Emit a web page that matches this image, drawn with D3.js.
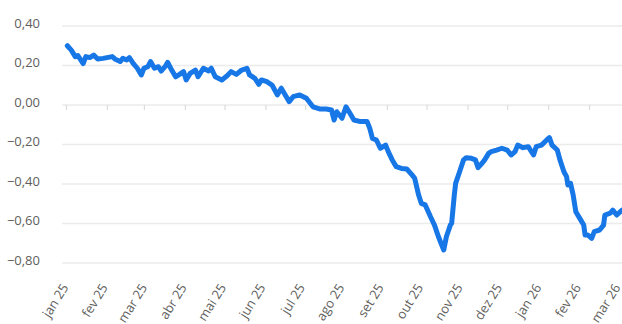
<!DOCTYPE html>
<html>
<head>
<meta charset="utf-8">
<script src="https://cdn.jsdelivr.net/npm/d3@7"></script>
<style>
  body { margin: 0; background: #fff; }
  svg text { font-family: "Open Sans", "Noto Sans", sans-serif; }
</style>
</head>
<body>
<div id="chart"></div>
<script>
const dates = [
  "2025-01-02","2025-01-05","2025-01-08","2025-01-10","2025-01-14","2025-01-16","2025-01-19","2025-01-22","2025-01-25","2025-01-29",
  "2025-02-05","2025-02-07","2025-02-11","2025-02-13","2025-02-16","2025-02-18","2025-02-21","2025-02-24","2025-02-27",
  "2025-03-01","2025-03-04","2025-03-06","2025-03-09","2025-03-12","2025-03-14","2025-03-17","2025-03-19","2025-03-22","2025-03-25","2025-03-28","2025-03-31",
  "2025-04-02","2025-04-05","2025-04-09","2025-04-11","2025-04-15","2025-04-19","2025-04-21","2025-04-24","2025-04-29",
  "2025-05-03","2025-05-06","2025-05-10","2025-05-14","2025-05-18","2025-05-20","2025-05-24","2025-05-27","2025-05-29",
  "2025-06-02","2025-06-06","2025-06-10","2025-06-13","2025-06-16","2025-06-19","2025-06-22","2025-06-27",
  "2025-07-02","2025-07-07","2025-07-12","2025-07-17","2025-07-21","2025-07-23","2025-07-25","2025-07-29",
  "2025-08-01","2025-08-04","2025-08-07","2025-08-12","2025-08-17","2025-08-19","2025-08-21","2025-08-24","2025-08-27","2025-08-31",
  "2025-09-02","2025-09-05","2025-09-08","2025-09-12","2025-09-16","2025-09-20","2025-09-22","2025-09-25","2025-09-27","2025-09-30",
  "2025-10-04","2025-10-07","2025-10-10","2025-10-14","2025-10-16","2025-10-19","2025-10-20","2025-10-22","2025-10-23","2025-10-26","2025-10-29","2025-10-31",
  "2025-11-04","2025-11-07","2025-11-09","2025-11-12","2025-11-14","2025-11-17","2025-11-19","2025-11-23","2025-11-27",
  "2025-12-01","2025-12-04","2025-12-07","2025-12-09","2025-12-13","2025-12-17","2025-12-21","2025-12-23","2025-12-27","2025-12-31",
  "2026-01-02","2026-01-04","2026-01-08","2026-01-10","2026-01-13","2026-01-15","2026-01-16","2026-01-18","2026-01-20","2026-01-22","2026-01-25","2026-01-28","2026-01-29","2026-01-31",
  "2026-02-03","2026-02-05","2026-02-09","2026-02-12","2026-02-13","2026-02-17","2026-02-19","2026-02-22","2026-02-26"
];

const values = [
  0.300,0.278,0.245,0.250,0.210,0.245,0.240,0.253,0.233,0.236,
  0.245,0.233,0.220,0.236,0.228,0.240,0.210,0.186,0.152,
  0.186,0.194,0.220,0.186,0.194,0.172,0.194,0.216,0.177,0.143,0.155,0.169,
  0.127,0.160,0.177,0.143,0.186,0.172,0.186,0.143,0.127,
  0.148,0.169,0.155,0.177,0.186,0.152,0.135,0.105,0.127,
  0.118,0.101,0.051,0.085,0.051,0.017,0.042,0.051,
  0.034,-0.009,-0.020,-0.020,-0.025,-0.076,-0.034,-0.067,
  -0.009,-0.042,-0.076,-0.084,-0.084,-0.118,-0.169,-0.177,-0.219,-0.203,
  -0.236,-0.278,-0.312,-0.321,-0.324,-0.354,-0.371,-0.456,-0.498,-0.506,
  -0.566,-0.608,-0.667,-0.734,-0.667,-0.608,-0.599,-0.456,-0.397,-0.338,-0.278,-0.267,
  -0.270,-0.278,-0.317,-0.295,-0.278,-0.245,-0.236,-0.228,-0.219,
  -0.228,-0.253,-0.236,-0.203,-0.216,-0.211,-0.253,-0.211,-0.203,-0.177,
  -0.165,-0.203,-0.228,-0.278,-0.338,-0.363,-0.405,-0.397,-0.456,-0.540,-0.574,-0.608,-0.658,-0.658,
  -0.675,-0.641,-0.633,-0.608,-0.557,-0.548,-0.532,-0.557,-0.532
];

const yTicks = [-0.8, -0.6, -0.4, -0.2, 0, 0.2, 0.4];
const monthLabels = ["jan 25","fev 25","mar 25","abr 25","mai 25","jun 25","jul 25","ago 25","set 25","out 25","nov 25","dez 25","jan 26","fev 26","mar 26"];

const width = 622;
const height = 324;
const margin = { top: 26, left: 62, bottom: 61, right: 0 };

const parse = d3.timeParse("%Y-%m-%d");
const data = dates.map((d, i) => ({ date: parse(d), value: values[i] }));
const months = d3.timeMonth.range(new Date(2025, 0, 1), new Date(2026, 2, 2));

const svg = d3.select("#chart")
  .append("svg")
  .attr("width", width)
  .attr("height", height);

const x = d3.scaleTime()
  .domain([new Date(2025, 0, 1), new Date(2026, 2, 1)])
  .range([66, 626]);

// labels sit on an even category spacing, a bit tighter than the ticks
const xLabel = d3.scalePoint()
  .domain(monthLabels)
  .range([66, 618]);

const y = d3.scaleLinear()
  .domain([-0.8, 0.4])
  .range([height - margin.bottom, margin.top]);

// grid
svg.append("g")
  .selectAll("line")
  .data(yTicks)
  .join("line")
  .attr("x1", margin.left)
  .attr("x2", width)
  .attr("y1", d => y(d))
  .attr("y2", d => y(d))
  .attr("stroke", "#ebebeb")
  .attr("stroke-width", 1.5);

// y labels
const fmt = d3.format(".2f");
svg.append("g")
  .selectAll("text")
  .data(yTicks)
  .join("text")
  .attr("x", 40)
  .attr("y", d => y(d) - 3)
  .attr("dy", "0.35em")
  .attr("text-anchor", "end")
  .attr("font-size", 13)
  .attr("fill", "#605e5c")
  .text(d => fmt(d).replace(".", ","));

// zero axis with month ticks
const xAxis = svg.append("g")
  .attr("transform", `translate(0,${y(0)})`)
  .call(d3.axisBottom(x).tickValues(months).tickSize(5).tickFormat(""));
xAxis.select(".domain").remove();
xAxis.selectAll(".tick line").attr("stroke", "#dcdcdc").attr("stroke-width", 1.2);

// month labels
svg.append("g")
  .selectAll("text")
  .data(monthLabels)
  .join("text")
  .attr("transform", d => `translate(${xLabel(d) - 1},${height - margin.bottom + 22}) rotate(-58)`)
  .attr("text-anchor", "end")
  .attr("dy", "0.35em")
  .attr("font-size", 13)
  .attr("fill", "#605e5c")
  .text(d => d);

// line
const line = d3.line()
  .x(d => x(d.date))
  .y(d => y(d.value));

svg.append("path")
  .datum(data)
  .attr("fill", "none")
  .attr("stroke", "#1877e6")
  .attr("stroke-width", 5)
  .attr("stroke-linejoin", "round")
  .attr("stroke-linecap", "round")
  .attr("d", line);
</script>
</body>
</html>
